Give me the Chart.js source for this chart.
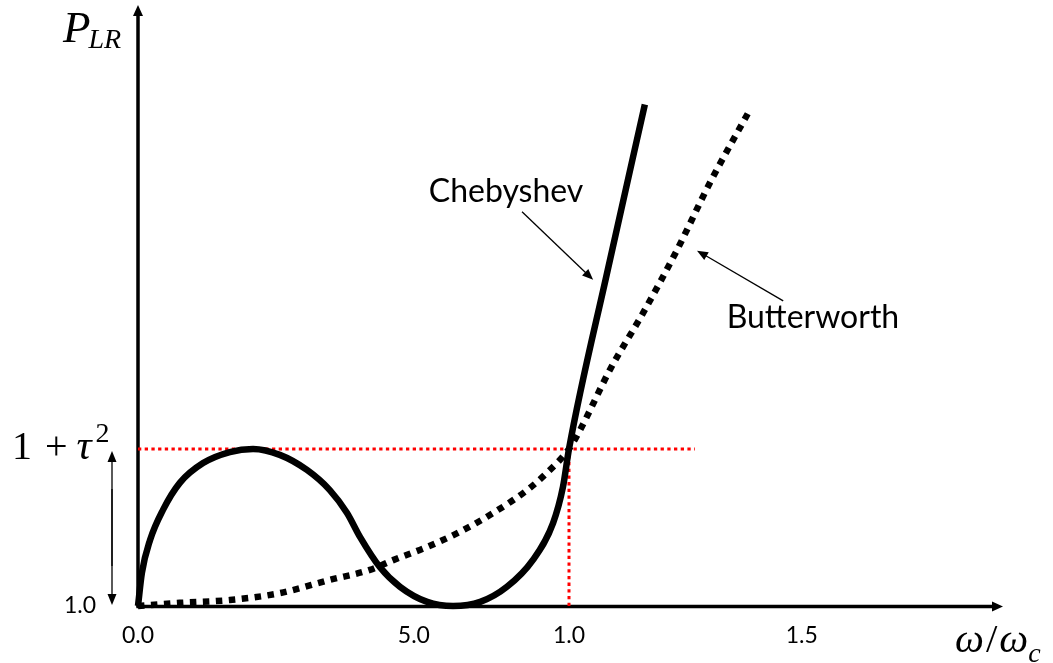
<!DOCTYPE html>
<html>
<head>
<meta charset="utf-8">
<title>Chebyshev vs Butterworth</title>
<script src="https://cdn.jsdelivr.net/npm/chart.js@4.4.1/dist/chart.umd.min.js"></script>
<style>
  html, body { margin: 0; padding: 0; background: #fff; }
  #wrap { width: 1053px; height: 663px; }
</style>
</head>
<body>
<div id="wrap"><canvas id="chart" width="1053" height="663"></canvas></div>
<script>
// ω/ωc against P_LR for the equal-ripple and maximally flat responses
const chebX = [0, 0.009, 0.028, 0.058, 0.097, 0.151, 0.213, 0.267, 0.329, 0.392, 0.445, 0.485, 0.515,
               0.561, 0.608, 0.671, 0.731, 0.794, 0.856, 0.916, 0.963, 0.986, 1.0, 1.09, 1.176];
const chebY = [1.0, 1.105, 1.21, 1.306, 1.392, 1.455, 1.49, 1.5, 1.481, 1.433, 1.369, 1.296, 1.22,
               1.124, 1.061, 1.013, 1.0, 1.013, 1.061, 1.146, 1.264, 1.379, 1.5, 2.07, 2.596];

const buttX = [0, 0.097, 0.213, 0.329, 0.445, 0.538, 0.592, 0.671, 0.747, 0.824, 0.903, 0.949,
               1.0, 1.026, 1.095, 1.172, 1.251, 1.327, 1.42];
const buttY = [1.0, 1.01, 1.019, 1.041, 1.083, 1.115, 1.146, 1.188, 1.236, 1.296, 1.369, 1.424,
               1.5, 1.561, 1.752, 1.933, 2.134, 2.347, 2.58];

const rippleLevel = 1.5;     // 1 + τ²
const cutoff = 1.0;
const rippleLineEnd = 1.292;

const xTickValues = [0, 0.64, 1.0, 1.54];
const xTickLabels = ['0.0', '5.0', '1.0', '1.5'];
const yTickValues = [1.0];
const yTickLabels = ['1.0'];

const toPoints = (xs, ys) => xs.map((x, i) => ({ x: x, y: ys[i] }));

const MATH = '"Liberation Serif", "DejaVu Serif", serif';
const SANS = 'Lato, "Open Sans", sans-serif';

function arrow(ctx, x1, y1, x2, y2, len, half, width) {
    const a = Math.atan2(y2 - y1, x2 - x1);
    ctx.lineWidth = width;
    ctx.beginPath();
    ctx.moveTo(x1, y1);
    ctx.lineTo(x2 - Math.cos(a) * len * 0.8, y2 - Math.sin(a) * len * 0.8);
    ctx.stroke();
    ctx.beginPath();
    ctx.moveTo(x2, y2);
    ctx.lineTo(x2 - Math.cos(a) * len + Math.sin(a) * half, y2 - Math.sin(a) * len - Math.cos(a) * half);
    ctx.lineTo(x2 - Math.cos(a) * len - Math.sin(a) * half, y2 - Math.sin(a) * len + Math.cos(a) * half);
    ctx.closePath();
    ctx.fill();
}

// writes a run of [text, font, dy, gap] pieces one after another from x
function mathRun(ctx, x, y, pieces) {
    pieces.forEach(([txt, font, dy, gap]) => {
        ctx.font = font;
        ctx.fillText(txt, x, y + (dy || 0));
        x += ctx.measureText(txt).width + (gap || 0);
    });
}

// axes with arrow heads, drawn under the curves
const axesPlugin = {
    id: 'axes',
    beforeDatasetsDraw(chart) {
        const ctx = chart.ctx, a = chart.chartArea;
        ctx.save();
        ctx.strokeStyle = '#000';
        ctx.fillStyle = '#000';
        ctx.lineCap = 'butt';
        arrow(ctx, a.left, a.bottom + 1.5, a.left, a.top - 4, 11, 5, 3.5);
        arrow(ctx, a.left - 1.5, a.bottom + 0.5, a.right + 3, a.bottom + 0.5, 11, 5, 3.5);
        ctx.restore();
    }
};

// labels, pointer arrows and the ripple bracket
const notesPlugin = {
    id: 'notes',
    afterDraw(chart) {
        const ctx = chart.ctx, a = chart.chartArea;
        const sx = chart.scales.x, sy = chart.scales.y;
        const px = v => sx.getPixelForValue(v), py = v => sy.getPixelForValue(v);
        const base = py(1.0), ry = py(rippleLevel);
        ctx.save();
        ctx.fillStyle = '#000';
        ctx.strokeStyle = '#000';
        ctx.textAlign = 'left';
        ctx.textBaseline = 'alphabetic';

        // P_LR
        mathRun(ctx, a.left - 75, 42, [
            ['P', 'italic 45px ' + MATH, 0, -2],
            ['LR', 'italic 28px ' + MATH, 6]
        ]);

        // 1 + τ²
        mathRun(ctx, 12, ry + 10, [
            ['1', '40px ' + MATH, 0, 13],
            ['+', '40px ' + MATH, 0, 9],
            ['τ', 'italic 42px ' + MATH, 0, 4],
            ['2', '28px ' + MATH, -17]
        ]);

        // ω/ωc
        mathRun(ctx, 955, base + 46, [
            ['ω', 'italic 41px ' + MATH, 0, 2],
            ['/', '41px ' + MATH, 0, 2],
            ['ω', 'italic 41px ' + MATH, 0, 0],
            ['c', 'italic 28px ' + MATH, 10]
        ]);

        // bracket from 1.0 up to the ripple level
        arrow(ctx, 112, base - 40, 112, ry + 2, 11, 4.5, 1.3);
        arrow(ctx, 112, ry + 40, 112, base - 1, 11, 4.5, 1.3);

        // curve labels
        ctx.font = '32px ' + SANS;
        ctx.textAlign = 'center';
        ctx.textBaseline = 'middle';
        ctx.fillText('Chebyshev', px(0.854), py(2.318));
        ctx.fillText('Butterworth', px(1.566), py(1.917));
        arrow(ctx, px(0.891), py(2.255), px(1.056), py(2.038), 11, 4.5, 1.3);
        arrow(ctx, px(1.497), py(1.971), px(1.297), py(2.131), 11, 4.5, 1.3);
        ctx.restore();
    }
};

new Chart(document.getElementById('chart'), {
    type: 'line',
    data: {
        datasets: [
            {
                label: 'Chebyshev',
                data: toPoints(chebX, chebY),
                borderColor: '#000',
                borderWidth: 6.5,
                cubicInterpolationMode: 'monotone',
                pointRadius: 0,
                clip: 10,
                order: 0
            },
            {
                label: 'Butterworth',
                data: toPoints(buttX, buttY),
                borderColor: '#000',
                borderWidth: 6.5,
                borderDash: [6.5, 6.5],
                borderCapStyle: 'butt',
                cubicInterpolationMode: 'monotone',
                pointRadius: 0,
                clip: 10,
                order: 1
            },
            {
                label: 'ripple',
                data: [{ x: 0, y: rippleLevel }, { x: rippleLineEnd, y: rippleLevel }],
                borderColor: '#ff0000',
                borderWidth: 3,
                borderDash: [3.3, 3.4],
                pointRadius: 0,
                clip: 10,
                order: 2
            },
            {
                label: 'cutoff',
                data: [{ x: cutoff, y: 1.0 }, { x: cutoff, y: rippleLevel }],
                borderColor: '#ff0000',
                borderWidth: 3,
                borderDash: [3.3, 3.4],
                pointRadius: 0,
                clip: 10,
                order: 2
            }
        ]
    },
    options: {
        responsive: false,
        animation: false,
        layout: { padding: { top: 9, right: 53, left: 0, bottom: 0 } },
        plugins: {
            legend: { display: false },
            tooltip: { enabled: false }
        },
        scales: {
            x: {
                type: 'linear',
                min: 0,
                max: 2.0,
                grid: { display: false, drawTicks: false },
                border: { display: false },
                afterFit: s => { s.height = 57; s.paddingLeft = 0; s.paddingRight = 0; },
                afterBuildTicks: s => { s.ticks = xTickValues.map(v => ({ value: v })); },
                ticks: {
                    autoSkip: false,
                    maxRotation: 0,
                    padding: 16,
                    color: '#000',
                    font: { family: 'Lato', size: 23 },
                    callback: (v, i) => xTickLabels[i]
                }
            },
            y: {
                type: 'linear',
                min: 1.0,
                max: 2.9,
                grid: { display: false, drawTicks: false },
                border: { display: false },
                afterFit: s => { s.width = 138; s.paddingTop = 0; s.paddingBottom = 0; },
                afterBuildTicks: s => { s.ticks = yTickValues.map(v => ({ value: v })); },
                ticks: {
                    padding: 42,
                    color: '#000',
                    font: { family: 'Lato', size: 23 },
                    callback: (v, i) => yTickLabels[i]
                }
            }
        }
    },
    plugins: [axesPlugin, notesPlugin]
});
</script>
</body>
</html>
